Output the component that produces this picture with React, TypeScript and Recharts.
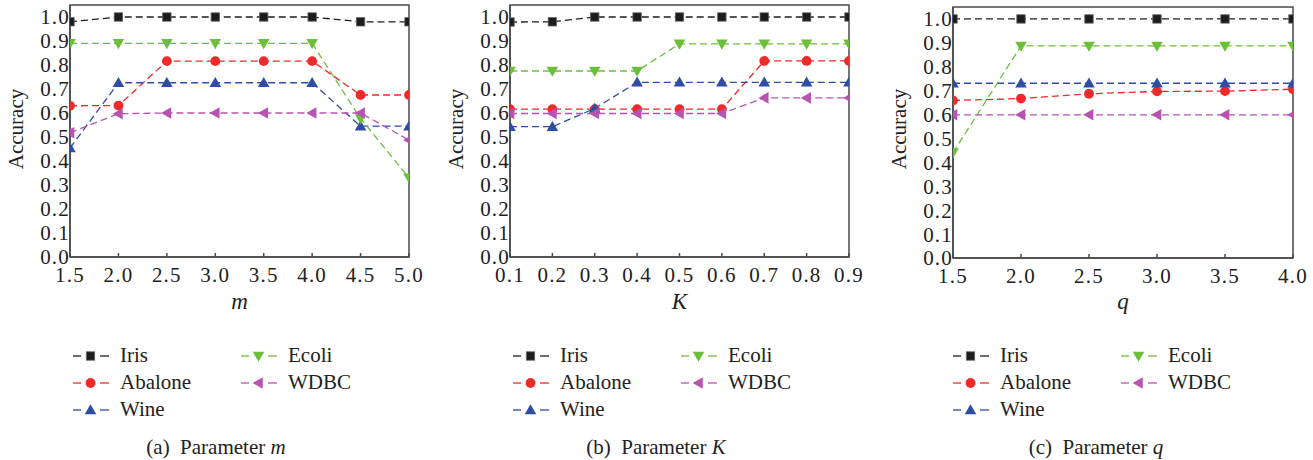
import React from 'react';
import { LineChart, Line, XAxis, YAxis, ReferenceArea, Legend } from 'recharts';

// ---------- data ----------
const seriesNames = ['Iris', 'Abalone', 'Wine', 'Ecoli', 'WDBC'];
const yTicks = [0, 0.1, 0.2, 0.3, 0.4, 0.5, 0.6, 0.7, 0.8, 0.9, 1.0];

const mValues = [1.5, 2.0, 2.5, 3.0, 3.5, 4.0, 4.5, 5.0];
const mIris = [0.98, 1.0, 1.0, 1.0, 1.0, 1.0, 0.98, 0.98];
const mAbalone = [0.63, 0.631, 0.816, 0.816, 0.816, 0.816, 0.675, 0.675];
const mWine = [0.454, 0.726, 0.726, 0.726, 0.726, 0.726, 0.545, 0.545];
const mEcoli = [0.89, 0.89, 0.89, 0.89, 0.89, 0.89, 0.577, 0.33];
const mWdbc = [0.518, 0.597, 0.6, 0.6, 0.6, 0.6, 0.6, 0.487];

const kValues = [0.1, 0.2, 0.3, 0.4, 0.5, 0.6, 0.7, 0.8, 0.9];
const kIris = [0.979, 0.98, 1.0, 1.0, 1.0, 1.0, 1.0, 1.0, 1.0];
const kAbalone = [0.616, 0.616, 0.616, 0.616, 0.616, 0.616, 0.817, 0.817, 0.817];
const kWine = [0.543, 0.543, 0.619, 0.728, 0.728, 0.728, 0.728, 0.728, 0.728];
const kEcoli = [0.775, 0.775, 0.775, 0.775, 0.888, 0.888, 0.888, 0.888, 0.888];
const kWdbc = [0.598, 0.598, 0.598, 0.598, 0.598, 0.598, 0.663, 0.663, 0.663];

const qValues = [1.5, 2.0, 2.5, 3.0, 3.5, 4.0];
const qIris = [1.0, 1.0, 1.0, 1.0, 1.0, 1.0];
const qAbalone = [0.659, 0.667, 0.687, 0.697, 0.698, 0.706];
const qWine = [0.731, 0.731, 0.731, 0.731, 0.731, 0.731];
const qEcoli = [0.441, 0.887, 0.887, 0.887, 0.887, 0.887];
const qWdbc = [0.599, 0.599, 0.599, 0.599, 0.599, 0.599];

// ---------- styles ----------
const FONT = '"Liberation Serif", "DejaVu Serif", serif';
const AXIS = '#4a4a4a';
const styles: Record<string, { color: string; shape: string }> = {
  Iris: { color: '#1c1c1c', shape: 'square' },
  Abalone: { color: '#ee2a2a', shape: 'circle' },
  Wine: { color: '#2f4da3', shape: 'up' },
  Ecoli: { color: '#6bbf3a', shape: 'down' },
  WDBC: { color: '#b654b0', shape: 'left' },
};

function MarkerShape({ cx, cy, shape, color, s = 1 }: any) {
  if (cx == null || cy == null) return null;
  const a = 5.8 * s;
  const b = 4.3 * s;
  switch (shape) {
    case 'square':
      return <rect x={cx - 4.2 * s} y={cy - 4.2 * s} width={8.4 * s} height={8.4 * s} fill={color} stroke="#666" strokeWidth={0.8} />;
    case 'circle':
      return <circle cx={cx} cy={cy} r={4.9 * s} fill={color} />;
    case 'up':
      return <polygon points={`${cx},${cy - a} ${cx + a},${cy + b} ${cx - a},${cy + b}`} fill={color} />;
    case 'down':
      return <polygon points={`${cx},${cy + a} ${cx + a},${cy - b} ${cx - a},${cy - b}`} fill={color} />;
    case 'left':
      return <polygon points={`${cx - a},${cy} ${cx + b},${cy - a} ${cx + b},${cy + a}`} fill={color} />;
    default:
      return null;
  }
}

function makeDot(name: string) {
  const st = styles[name];
  return (p: any) => <MarkerShape key={`${name}-${p.index}`} cx={p.cx} cy={p.cy} shape={st.shape} color={st.color} />;
}

function LegendContent() {
  const col1 = ['Iris', 'Abalone', 'Wine'];
  const col2 = ['Ecoli', 'WDBC'];
  const item = (n: string) => {
    const st = styles[n];
    return (
      <div key={n} style={{ display: 'flex', alignItems: 'center', height: 27 }}>
        <svg width={36} height={14} style={{ display: 'block' }}>
          <line x1={0} y1={7} x2={8} y2={7} stroke={st.color} strokeWidth={1.3} />
          <line x1={27} y1={7} x2={36} y2={7} stroke={st.color} strokeWidth={1.3} />
          <MarkerShape cx={17.5} cy={7} shape={st.shape} color={st.color} />
        </svg>
        <span style={{ marginLeft: 11, fontFamily: FONT, fontSize: 21, color: '#222', lineHeight: '27px' }}>{n}</span>
      </div>
    );
  };
  return (
    <div style={{ display: 'flex' }}>
      <div style={{ width: 168 }}>{col1.map(item)}</div>
      <div>{col2.map(item)}</div>
    </div>
  );
}

type PanelProps = {
  left: number;
  width: number;
  xs: number[];
  values: Record<string, number[]>;
  xLabel: string;
  letter: string;
  margin: { top: number; right: number; left: number; bottom: number };
  yLabelX: number;
};

function Panel({ left, width, xs, values, xLabel, letter, margin, yLabelX }: PanelProps) {
  const data = xs.map((x, i) => {
    const row: Record<string, number> = { x };
    seriesNames.forEach((n) => (row[n] = values[n][i]));
    return row;
  });
  const xmin = xs[0];
  const xmax = xs[xs.length - 1];
  const plotLeft = margin.left + 60;
  const plotRight = width - margin.right;
  const center = (plotLeft + plotRight) / 2;
  const tickStyle = { fontFamily: FONT, fontSize: 21, fill: '#222', letterSpacing: 1.2 };
  return (
    <div style={{ position: 'absolute', left, top: 0, width, height: 460 }}>
      <LineChart width={width} height={460} data={data} margin={margin}>
        <XAxis
          dataKey="x"
          type="number"
          domain={[xmin, xmax]}
          ticks={xs}
          tickFormatter={(v: number) => v.toFixed(1)}
          height={30}
          stroke={AXIS}
          strokeWidth={1.5}
          tickSize={-4}
          tickMargin={14}
          tick={tickStyle}
          interval={0}
          allowDataOverflow
        />
        <YAxis
          type="number"
          domain={[0, 1.05]}
          ticks={yTicks}
          tickFormatter={(v: number) => v.toFixed(1)}
          width={60}
          stroke={AXIS}
          strokeWidth={1.5}
          tickLine={false}
          tickSize={0}
          tickMargin={0}
          tick={tickStyle}
          interval={0}
          allowDataOverflow
        />
        <ReferenceArea x1={xmin} x2={xmax} y1={0} y2={1.05} fill="none" stroke={AXIS} strokeWidth={1.5} ifOverflow="visible" />
        {seriesNames.map((n) => (
          <Line
            key={n}
            dataKey={n}
            type="linear"
            stroke={styles[n].color}
            strokeWidth={1.3}
            strokeDasharray="7 4"
            dot={makeDot(n)}
            activeDot={false}
            isAnimationActive={false}
            legendType="none"
          />
        ))}
        <Legend
          layout="vertical"
          align="center"
          verticalAlign="middle"
          content={() => <LegendContent />}
          wrapperStyle={{ position: 'absolute', left: 73, top: 342, width: 320, margin: 0 }}
        />
      </LineChart>
      <div
        style={{
          position: 'absolute',
          left: yLabelX - 60,
          top: 129 - 12,
          width: 120,
          height: 24,
          textAlign: 'center',
          transform: 'rotate(-90deg)',
          fontFamily: FONT,
          fontSize: 21,
          lineHeight: '24px',
          color: '#222',
        }}
      >
        Accuracy
      </div>
      <div
        style={{
          position: 'absolute',
          left: center - 50,
          top: 290,
          width: 100,
          textAlign: 'center',
          fontFamily: FONT,
          fontSize: 23,
          fontStyle: 'italic',
          lineHeight: '24px',
          color: '#222',
        }}
      >
        {xLabel}
      </div>
      <div
        style={{
          position: 'absolute',
          left: 216 - 120,
          top: 435,
          width: 240,
          textAlign: 'center',
          fontFamily: FONT,
          fontSize: 21,
          lineHeight: '24px',
          color: '#222',
          whiteSpace: 'pre',
        }}
      >
        {`(${letter})  Parameter `}
        <i>{xLabel}</i>
      </div>
    </div>
  );
}

export default function App() {
  return (
    <div style={{ position: 'fixed', left: 0, top: 0, width: 1313, height: 460, background: '#fff', overflow: 'hidden' }}>
      <Panel
        left={0}
        width={440}
        xs={mValues}
        values={{ Iris: mIris, Abalone: mAbalone, Wine: mWine, Ecoli: mEcoli, WDBC: mWdbc }}
        xLabel="m"
        letter="a"
        margin={{ top: 5, right: 31, left: 10, bottom: 173 }}
        yLabelX={16}
      />
      <Panel
        left={440}
        width={440}
        xs={kValues}
        values={{ Iris: kIris, Abalone: kAbalone, Wine: kWine, Ecoli: kEcoli, WDBC: kWdbc }}
        xLabel="K"
        letter="b"
        margin={{ top: 5, right: 31, left: 10, bottom: 173 }}
        yLabelX={16}
      />
      <Panel
        left={880}
        width={433}
        xs={qValues}
        values={{ Iris: qIris, Abalone: qAbalone, Wine: qWine, Ecoli: qEcoli, WDBC: qWdbc }}
        xLabel="q"
        letter="c"
        margin={{ top: 7, right: 20, left: 13, bottom: 172 }}
        yLabelX={19}
      />
    </div>
  );
}
